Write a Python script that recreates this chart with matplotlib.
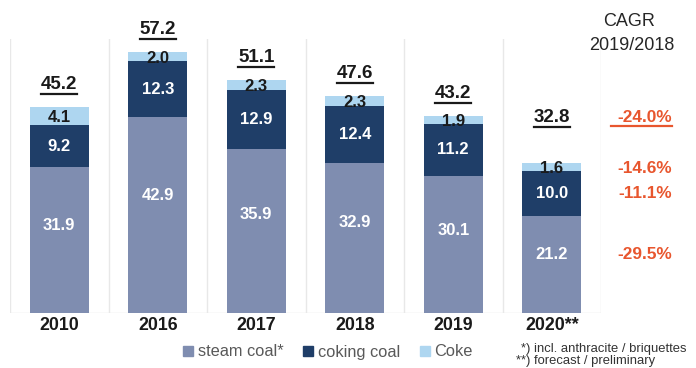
import matplotlib
matplotlib.use("Agg")
import matplotlib.pyplot as plt
from matplotlib.patches import Patch
from matplotlib.lines import Line2D
import numpy as np

plt.rcParams['font.family'] = ['Liberation Sans', 'DejaVu Sans']

years = ['2010', '2016', '2017', '2018', '2019', '2020**']
steam = [31.9, 42.9, 35.9, 32.9, 30.1, 21.2]
coking = [9.2, 12.3, 12.9, 12.4, 11.2, 10.0]
coke = [4.1, 2.0, 2.3, 2.3, 1.9, 1.6]
totals = [45.2, 57.2, 51.1, 47.6, 43.2, 32.8]
# CAGR 2019/2018: total, coke, coking coal, steam coal
cagr_total = '-24.0%'
cagr_coke = '-14.6%'
cagr_coking = '-11.1%'
cagr_steam = '-29.5%'

c_steam = '#7f8db0'
c_coking = '#1f3e68'
c_coke = '#aed6f0'
c_red = '#e8562e'
c_text = '#1a1a1a'

fig = plt.figure(figsize=(6.96, 3.68), dpi=100)
ax = fig.add_axes([10 / 696, 55 / 368, 591 / 696, 274 / 368])

x = np.arange(len(years))
steam = np.array(steam)
coking = np.array(coking)
coke = np.array(coke)
w = 0.6

ax.bar(x, steam, w, color=c_steam, zorder=2)
ax.bar(x, coking, w, bottom=steam, color=c_coking, zorder=2)
ax.bar(x, coke, w, bottom=steam + coking, color=c_coke, zorder=2)

ax.set_xlim(-0.5, len(years) - 0.5)
ax.set_ylim(0, 60)
for s in ax.spines.values():
    s.set_visible(False)
ax.set_yticks([])
ax.set_xticks([])
ax.axhline(0, color='#e4e4e4', lw=1, zorder=1)
for xs in np.arange(-0.5, len(years), 1.0):
    ax.plot([xs, xs], [0, 60], color='#e8e8e8', lw=1, zorder=1)

# segment labels
steam_y = steam * 0.6
coking_y = steam + coking / 2
coke_y = steam + coking + coke / 2 - 0.4
tot_y = np.array(totals) + 4.8
tot_y[-1] = totals[-1] + 10  # room above the small coke label

lab = dict(ha='center', va='center', fontsize=12, fontweight='bold', zorder=3)
for i in x:
    ax.text(i, steam_y[i], f'{steam[i]:.1f}', color='white', **lab)
    ax.text(i, coking_y[i], f'{coking[i]:.1f}', color='white', **lab)
    ax.text(i, coke_y[i], f'{coke[i]:.1f}', color=c_text, **lab)
    ax.text(i, -2.7, years[i], ha='center', va='center', color=c_text,
            fontsize=12.8, fontweight='bold', clip_on=False)

tot_labels = []
for i in x:
    t = ax.text(i, tot_y[i], f'{totals[i]:.1f}', ha='center', va='center',
                color=c_text, fontsize=13.5, fontweight='bold', zorder=3)
    tot_labels.append((t, c_text, 0))

# CAGR column, aligned with the 2020 labels
xc = len(years) - 0.5 + 0.72
cagr_rows = [(tot_y[-1], cagr_total), (coke_y[-1], cagr_coke),
             (coking_y[-1], cagr_coking), (steam_y[-1], cagr_steam)]
for k, (yy, s) in enumerate(cagr_rows):
    t = ax.text(xc, yy, s, ha='right', va='center', color=c_red,
                fontsize=12.4, fontweight='bold', clip_on=False)
    if k == 0:
        tot_labels.append((t, c_red, 6))

fig.text(629 / 696, 1 - 22 / 368, 'CAGR', ha='center', va='center',
         fontsize=13, color='#262626')
fig.text(632 / 696, 1 - 45 / 368, '2019/2018', ha='center', va='center',
         fontsize=13, color='#262626')

# underline the totals
fig.canvas.draw()
r = fig.canvas.get_renderer()
for t, col, extra in tot_labels:
    bb = t.get_window_extent(renderer=r)
    y0 = bb.y0 - 1.0
    fig.add_artist(Line2D([(bb.x0 - extra) / 696, bb.x1 / 696],
                          [y0 / 368, y0 / 368], color=col, lw=1.6))

handles = [Patch(color=c_steam, label='steam coal*'),
           Patch(color=c_coking, label='coking coal'),
           Patch(color=c_coke, label='Coke')]
fig.legend(handles=handles, loc='center', bbox_to_anchor=(328 / 696, 1 - 352 / 368),
           ncol=3, frameon=False, fontsize=11.8, handlelength=0.6, handleheight=0.6,
           handletextpad=0.3, columnspacing=1.2, labelcolor='#595959')

fig.text(521 / 696, 1 - 349 / 368, '*) incl. anthracite / briquettes',
         ha='left', va='center', fontsize=9.4, color='#333333')
fig.text(516 / 696, 1 - 361 / 368, '**) forecast / preliminary',
         ha='left', va='center', fontsize=9.4, color='#333333')

fig.savefig('out.png', dpi=100)
